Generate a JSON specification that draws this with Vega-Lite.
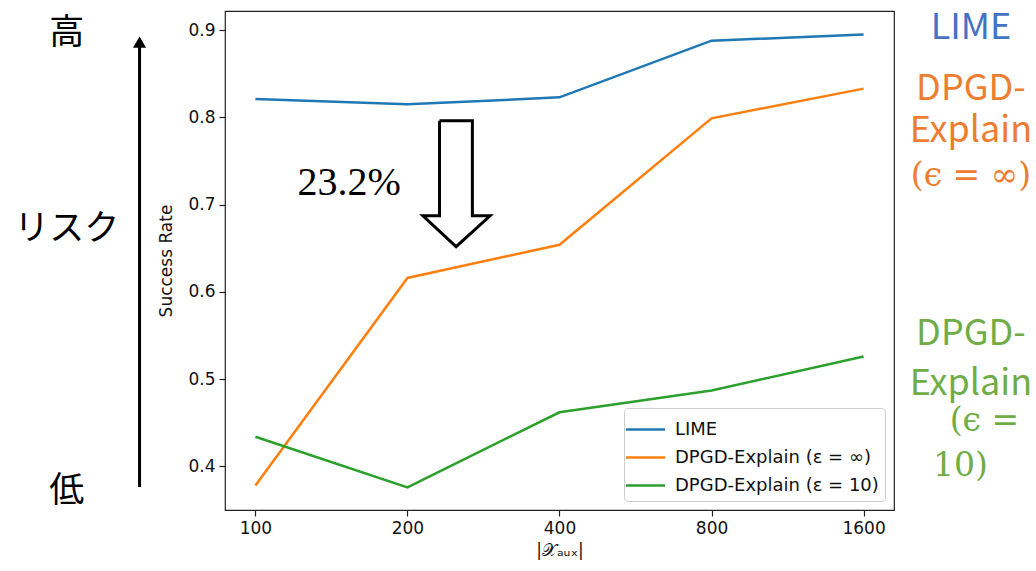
{
  "$schema": "https://vega.github.io/schema/vega-lite/v6.json",
  "autosize": "none",
  "padding": {"left": 225, "top": 11, "right": 142, "bottom": 61},
  "width": 669,
  "height": 499,
  "background": "white",
  "config": {
    "font": "DejaVu Sans",
    "view": {"stroke": "#222222", "strokeWidth": 1.2},
    "axis": {"grid": false, "domain": false, "tickColor": "#222222", "tickSize": 6, "tickWidth": 1.2, "labelFontSize": 17, "labelColor": "#111111", "labelFont": "DejaVu Sans", "titleFont": "DejaVu Sans", "titleFontWeight": "normal", "titleFontSize": 17, "titleColor": "#111111", "labelPadding": 4}
  },
  "datasets": {
    "series": [
      {"n": 100, "method": "LIME", "rate": 0.821},
      {"n": 200, "method": "LIME", "rate": 0.815},
      {"n": 400, "method": "LIME", "rate": 0.823},
      {"n": 800, "method": "LIME", "rate": 0.888},
      {"n": 1600, "method": "LIME", "rate": 0.895},
      {"n": 100, "method": "DPGD-Explain (ε = ∞)", "rate": 0.378},
      {"n": 200, "method": "DPGD-Explain (ε = ∞)", "rate": 0.616},
      {"n": 400, "method": "DPGD-Explain (ε = ∞)", "rate": 0.654},
      {"n": 800, "method": "DPGD-Explain (ε = ∞)", "rate": 0.799},
      {"n": 1600, "method": "DPGD-Explain (ε = ∞)", "rate": 0.833},
      {"n": 100, "method": "DPGD-Explain (ε = 10)", "rate": 0.434},
      {"n": 200, "method": "DPGD-Explain (ε = 10)", "rate": 0.376},
      {"n": 400, "method": "DPGD-Explain (ε = 10)", "rate": 0.462},
      {"n": 800, "method": "DPGD-Explain (ε = 10)", "rate": 0.487},
      {"n": 1600, "method": "DPGD-Explain (ε = 10)", "rate": 0.526}
    ],
    "droparrow": [
      {"n": 231.5, "rate": 0.7961, "order": 1},
      {"n": 268.9, "rate": 0.7961, "order": 2},
      {"n": 268.9, "rate": 0.6873, "order": 3},
      {"n": 291.5, "rate": 0.6873, "order": 4},
      {"n": 249.7, "rate": 0.6518, "order": 5},
      {"n": 214.6, "rate": 0.6873, "order": 6},
      {"n": 231.5, "rate": 0.6873, "order": 7},
      {"n": 231.5, "rate": 0.7961, "order": 8}
    ],
    "riskarrow": [
      {"n": 58.97, "rate": 0.3765, "rate2": 0.884}
    ],
    "riskhead": [
      {"n": 58.97, "rate": 0.8863}
    ],
    "notes": [
      {"n": 153.4, "rate": 0.7247, "label": "23.2%", "kind": "pct"},
      {"n": 42.3, "rate": 0.8966, "label": "高", "kind": "jp"},
      {"n": 42.3, "rate": 0.672, "label": "リスク", "kind": "jp"},
      {"n": 42.3, "rate": 0.372, "label": "低", "kind": "jp"},
      {"n": 2610, "rate": 0.89, "label": "LIME", "kind": "lime"},
      {"n": 2610, "rate": 0.8198, "label": "DPGD-", "kind": "inf"},
      {"n": 2610, "rate": 0.7717, "label": "Explain", "kind": "inf"},
      {"n": 2610, "rate": 0.7213, "label": "(ϵ = ∞)", "kind": "infm"},
      {"n": 2610, "rate": 0.5392, "label": "DPGD-", "kind": "ten"},
      {"n": 2610, "rate": 0.4819, "label": "Explain", "kind": "ten"},
      {"n": 2776, "rate": 0.4407, "label": "(ϵ =", "kind": "tenm"},
      {"n": 2488, "rate": 0.3891, "label": "10)", "kind": "tenm"}
    ]
  },
  "encoding": {
    "x": {
      "field": "n", "type": "quantitative",
      "scale": {"type": "log", "domain": [87.06, 1837.9], "nice": false},
      "axis": {"values": [100, 200, 400, 800, 1600], "format": "d", "title": "|𝒳ₐᵤₓ|", "titlePadding": 6}
    },
    "y": {
      "field": "rate", "type": "quantitative",
      "scale": {"domain": [0.35, 0.922], "nice": false, "zero": false},
      "axis": {"values": [0.4, 0.5, 0.6, 0.7, 0.8, 0.9], "format": ".1f", "title": "Success Rate", "titlePadding": 12}
    }
  },
  "layer": [
    {
      "data": {"name": "series"},
      "mark": {"type": "line", "strokeWidth": 2.5},
      "encoding": {
        "color": {
          "field": "method", "type": "nominal",
          "scale": {"domain": ["LIME", "DPGD-Explain (ε = ∞)", "DPGD-Explain (ε = 10)"], "range": ["#1f77b4", "#ff7f0e", "#2ca02c"]},
          "legend": {
            "title": null, "orient": "bottom-right", "offset": 9,
            "symbolType": "M-1.4,0H1.4", "symbolSize": 784, "symbolStrokeWidth": 2.5, "symbolOffset": 0,
            "labelFontSize": 18, "labelFont": "DejaVu Sans", "labelColor": "#111111", "labelOffset": 14, "labelLimit": 400,
            "rowPadding": 3, "padding": 6,
            "fillColor": "white", "strokeColor": "#cccccc", "cornerRadius": 4
          }
        }
      }
    },
    {
      "data": {"name": "droparrow"},
      "mark": {"type": "line", "color": "black", "strokeWidth": 3, "strokeJoin": "miter"},
      "encoding": {"order": {"field": "order", "type": "quantitative"}}
    },
    {
      "data": {"name": "riskarrow"},
      "mark": {"type": "rule", "color": "black", "strokeWidth": 3},
      "encoding": {"y2": {"field": "rate2"}}
    },
    {
      "data": {"name": "riskhead"},
      "mark": {"type": "point", "shape": "triangle-up", "filled": true, "color": "black", "size": 170, "opacity": 1}
    },
    {
      "data": {"name": "notes"},
      "transform": [{"filter": "datum.kind === 'pct'"}],
      "mark": {"type": "text", "font": "Liberation Serif", "fontSize": 40, "color": "black", "align": "center", "baseline": "middle"},
      "encoding": {"text": {"field": "label"}}
    },
    {
      "data": {"name": "notes"},
      "transform": [{"filter": "datum.kind === 'jp'"}],
      "mark": {"type": "text", "font": "Noto Sans CJK JP", "fontSize": 35, "color": "black", "align": "center", "baseline": "middle"},
      "encoding": {"text": {"field": "label"}}
    },
    {
      "data": {"name": "notes"},
      "transform": [{"filter": "datum.kind === 'lime'"}],
      "mark": {"type": "text", "font": "Noto Sans CJK JP", "fontSize": 36, "color": "#4472C4", "align": "center", "baseline": "alphabetic"},
      "encoding": {"text": {"field": "label"}}
    },
    {
      "data": {"name": "notes"},
      "transform": [{"filter": "datum.kind === 'inf'"}],
      "mark": {"type": "text", "font": "Noto Sans CJK JP", "fontSize": 36, "color": "#ED7D31", "align": "center", "baseline": "alphabetic"},
      "encoding": {"text": {"field": "label"}}
    },
    {
      "data": {"name": "notes"},
      "transform": [{"filter": "datum.kind === 'infm'"}],
      "mark": {"type": "text", "font": "DejaVu Serif", "fontSize": 33, "color": "#ED7D31", "align": "center", "baseline": "alphabetic"},
      "encoding": {"text": {"field": "label"}}
    },
    {
      "data": {"name": "notes"},
      "transform": [{"filter": "datum.kind === 'ten'"}],
      "mark": {"type": "text", "font": "Noto Sans CJK JP", "fontSize": 36, "color": "#70AD47", "align": "center", "baseline": "alphabetic"},
      "encoding": {"text": {"field": "label"}}
    },
    {
      "data": {"name": "notes"},
      "transform": [{"filter": "datum.kind === 'tenm'"}],
      "mark": {"type": "text", "font": "DejaVu Serif", "fontSize": 33, "color": "#70AD47", "align": "center", "baseline": "alphabetic"},
      "encoding": {"text": {"field": "label"}}
    }
  ]
}
